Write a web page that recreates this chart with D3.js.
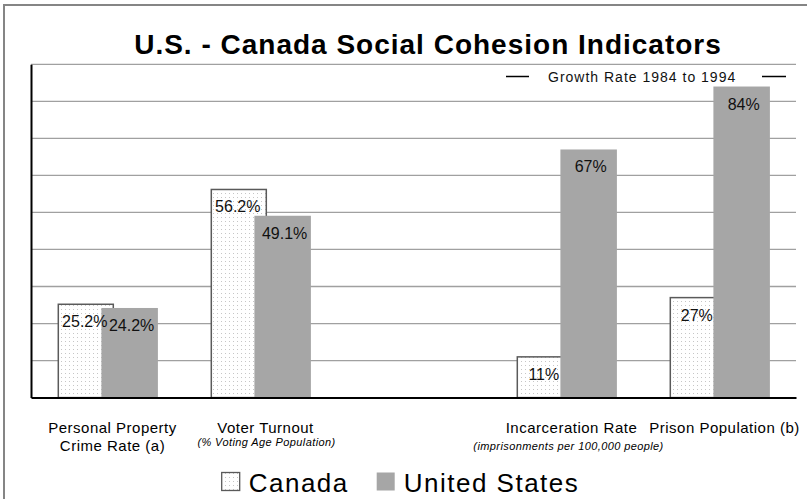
<!DOCTYPE html>
<html>
<head>
<meta charset="utf-8">
<script src="https://cdn.jsdelivr.net/npm/d3@7"></script>
<style>
  html, body { margin: 0; padding: 0; background: #fff; }
  svg { display: block; font-family: "Liberation Sans", Arial, sans-serif; }
</style>
</head>
<body>
<svg id="chart" width="807" height="499"></svg>
<script>
// Category slots (one blank slot separates the voting and prison groups)
const categories = ["Personal Property Crime Rate (a)", "Voter Turnout", "", "Incarceration Rate", "Prison Population (b)"];
const categoryLines = [["Personal Property", "Crime Rate (a)"], ["Voter Turnout"], [], ["Incarceration Rate"], ["Prison Population (b)"]];
const categoryNotes = ["", "(% Voting Age Population)", "", "(imprisonments per 100,000 people)", ""];
const series = ["Canada", "United States"];
const canadaValues = [25.2, 56.2, null, 11, 27];
const usValues = [24.2, 49.1, null, 67, 84];
const gridTicks = [10, 20, 30, 40, 50, 60, 70, 80, 90];
const title = "U.S. - Canada Social Cohesion Indicators";
const subtitle = "Growth Rate 1984 to 1994";

const svg = d3.select("#chart");

// dotted fill for the Canada bars
const defs = svg.append("defs");
const pat = defs.append("pattern").attr("id", "dots")
  .attr("width", 4).attr("height", 4).attr("patternUnits", "userSpaceOnUse");
pat.append("rect").attr("width", 4).attr("height", 4).attr("fill", "#fff");
pat.append("rect").attr("x", 1).attr("y", 1).attr("width", 1).attr("height", 1).attr("fill", "#c6c6c6");

const plot = { left: 31, right: 796, top: 64.3, bottom: 397.6 };

const x = d3.scaleBand().domain(categories).range([plot.left, plot.right]).padding(0);
const y = d3.scaleLinear().domain([0, 90]).range([plot.bottom, plot.top]);
const offset = d3.scaleOrdinal().domain(series).range([27.3, 70.4]);
const barWidth = d3.scaleOrdinal().domain(series).range([55, 56.5]);
const labelShift = d3.scaleOrdinal().domain(series).range([-1, 2]);
const fills = d3.scaleOrdinal().domain(series).range(["url(#dots)", "#a6a6a6"]);
const strokes = d3.scaleOrdinal().domain(series).range(["#5a5a5a", "none"]);

// outer frame (top and left edges)
svg.append("line").attr("x1", 4).attr("x2", 807).attr("y1", 5).attr("y2", 5)
  .attr("stroke", "#858585").attr("stroke-width", 2);
svg.append("line").attr("x1", 4).attr("x2", 4).attr("y1", 4).attr("y2", 499)
  .attr("stroke", "#858585").attr("stroke-width", 2);

// title
svg.append("text").attr("x", 428).attr("y", 53.5).attr("text-anchor", "middle")
  .attr("font-size", 28).attr("font-weight", "bold").attr("letter-spacing", 1)
  .attr("fill", "#000").text(title);

// horizontal gridlines
svg.append("g").selectAll("line").data(gridTicks).join("line")
  .attr("x1", plot.left).attr("x2", plot.right)
  .attr("y1", d => y(d)).attr("y2", d => y(d))
  .attr("stroke", "#a0a0a0").attr("stroke-width", 1.3);

// growth-rate caption with dashes
const cap = svg.append("g");
cap.append("line").attr("x1", 506).attr("x2", 529).attr("y1", 76.5).attr("y2", 76.5)
  .attr("stroke", "#000").attr("stroke-width", 1.5);
cap.append("line").attr("x1", 762).attr("x2", 786).attr("y1", 76.5).attr("y2", 76.5)
  .attr("stroke", "#000").attr("stroke-width", 1.5);
cap.append("text").attr("x", 548).attr("y", 81.5).attr("font-size", 14)
  .attr("letter-spacing", 1).attr("fill", "#111").text(subtitle);

// bars
const rows = [];
categories.forEach((c, i) => {
  [[series[0], canadaValues[i]], [series[1], usValues[i]]].forEach(([s, v]) => {
    if (v != null) rows.push({ cat: c, series: s, value: v });
  });
});

const fmt = v => Number.isInteger(v) ? v + "%" : v.toFixed(1) + "%";

const bars = svg.append("g");
bars.selectAll("rect").data(rows).join("rect")
  .attr("x", d => x(d.cat) + offset(d.series))
  .attr("y", d => y(d.value))
  .attr("width", d => barWidth(d.series))
  .attr("height", d => y(0) - y(d.value))
  .attr("fill", d => fills(d.series))
  .attr("stroke", d => strokes(d.series))
  .attr("stroke-width", 1.5);

// value labels inside the bars
svg.append("g").selectAll("text").data(rows).join("text")
  .attr("x", d => x(d.cat) + offset(d.series) + barWidth(d.series) / 2 + labelShift(d.series))
  .attr("y", d => y(d.value) + 23)
  .attr("text-anchor", "middle").attr("font-size", 16).attr("fill", "#111")
  .text(d => fmt(d.value));

// axes: left spine and baseline
const yAxis = svg.append("g").attr("transform", `translate(${plot.left},0)`)
  .call(d3.axisLeft(y).tickValues([]).tickSizeOuter(0));
yAxis.select(".domain").attr("stroke", "#000").attr("stroke-width", 2);
const xAxis = svg.append("g").attr("transform", `translate(0,${plot.bottom})`)
  .call(d3.axisBottom(x).tickValues([]).tickSizeOuter(0));
xAxis.select(".domain").attr("stroke", "#000").attr("stroke-width", 2);

// category labels
const labels = svg.append("g");
categories.forEach((c, i) => {
  const cx = x(c) + x.bandwidth() / 2 + 5;
  categoryLines[i].forEach((line, k) => {
    labels.append("text").attr("x", cx).attr("y", 433 + k * 18)
      .attr("text-anchor", "middle").attr("font-size", 15).attr("letter-spacing", 0.5)
      .attr("fill", "#000").text(line);
  });
  if (categoryNotes[i]) {
    labels.append("text").attr("x", cx + (i === 1 ? 1 : -3)).attr("y", i === 1 ? 445.5 : 450)
      .attr("text-anchor", "middle").attr("font-size", 11).attr("font-style", "italic")
      .attr("letter-spacing", 0.4).attr("fill", "#000").text(categoryNotes[i]);
  }
});

// legend
const legendX = [221.7, 376.7];
const legend = svg.append("g");
series.forEach((s, i) => {
  legend.append("rect").attr("x", legendX[i]).attr("y", 472.5).attr("width", 18).attr("height", 18)
    .attr("fill", fills(s)).attr("stroke", i === 0 ? "#5a5a5a" : "none").attr("stroke-width", 1.3);
  legend.append("text").attr("x", legendX[i] + 27).attr("y", 491.5)
    .attr("font-size", 26).attr("letter-spacing", 1.5).attr("fill", "#000").text(s);
});
</script>
</body>
</html>
